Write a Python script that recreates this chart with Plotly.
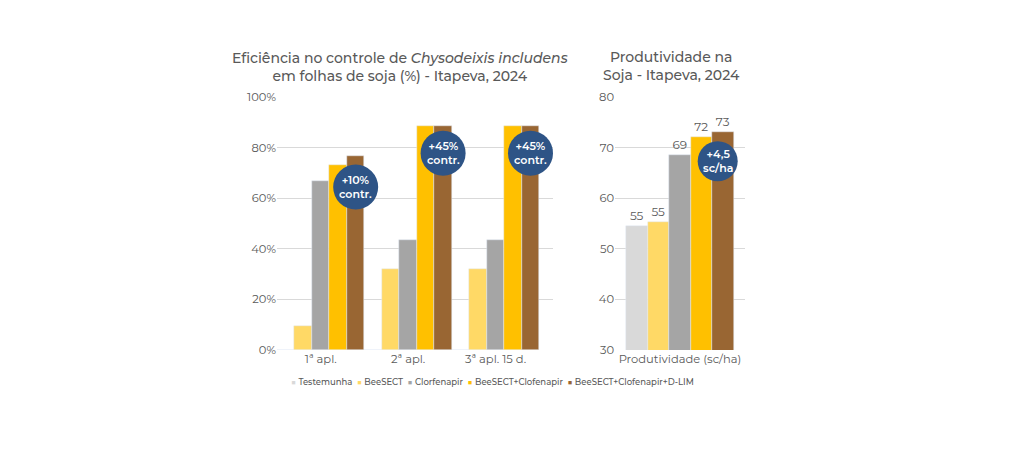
import plotly.graph_objects as go

# ---- data ----
series = ["Testemunha", "BeeSECT", "Clorfenapir", "BeeSECT+Clofenapir", "BeeSECT+Clofenapir+D-LIM"]
colors = ["#D9D9D9", "#FFD966", "#A5A5A5", "#FFC000", "#996633"]

eff_categories = ["1ª apl.", "2ª apl.", "3ª apl. 15 d."]
eff_values = [
    [0, 0, 0],          # Testemunha
    [9.6, 32.2, 32.2],  # BeeSECT
    [66.8, 43.4, 43.4], # Clorfenapir
    [73.2, 88.6, 88.6], # BeeSECT+Clofenapir
    [76.5, 88.6, 88.6], # BeeSECT+Clofenapir+D-LIM
]
eff_ticks = [0, 20, 40, 60, 80, 100]
eff_ticktext = ["0%", "20%", "40%", "60%", "80%", "100%"]
eff_badges = [("+10%<br>contr.", 0, 64.4), ("+45%<br>contr.", 1, 77.8), ("+45%<br>contr.", 2, 77.8)]

prod_category = ["Produtividade (sc/ha)"]
prod_values = [54.6, 55.2, 68.5, 72.0, 73.0]
prod_ticks = [30, 40, 50, 60, 70, 80]
prod_badge = ("+4,5<br>sc/ha", 0, 67.3)

FONT = "Montserrat, DejaVu Sans, sans-serif"
TXT = "#595959"
BADGE = "#2E5486"

W, H = 1024, 455
OFF = 8  # page body margin shifts the figure by this many pixels


def px(x):
    return (x - OFF) / W


def py(y):
    return 1 - (y - OFF) / H


fig = go.Figure()

for name, col, vals in zip(series, colors, eff_values):
    fig.add_trace(go.Bar(x=eff_categories, y=vals, name=name, marker_color=col,
                         xaxis="x", yaxis="y", showlegend=False))

for name, col, v in zip(series, colors, prod_values):
    fig.add_trace(go.Bar(x=prod_category, y=[v], name=name, marker_color=col,
                         xaxis="x2", yaxis="y2", showlegend=False,
                         text=[v], texttemplate="%{y:.0f}", textposition="outside",
                         textfont=dict(size=12, color=TXT, family=FONT), cliponaxis=False))

ydom = [py(350), py(97)]
fig.update_layout(
    width=W, height=H,
    margin=dict(l=0, r=0, t=0, b=0, autoexpand=False),
    paper_bgcolor="white", plot_bgcolor="white",
    barmode="group", bargap=0, bargroupgap=0,
    font=dict(family=FONT, color=TXT, size=11),
    xaxis=dict(domain=[px(277), px(553)], showline=False, ticks="",
               tickfont=dict(size=11.5, color=TXT)),
    yaxis=dict(domain=ydom, range=[0, 100], tickvals=eff_ticks, ticktext=eff_ticktext,
               showgrid=True, gridcolor="#D9D9D9", zeroline=False, ticks="",
               tickfont=dict(size=11.5, color=TXT)),
    xaxis2=dict(domain=[px(615), px(745)], anchor="y2", showline=False, ticks="",
                tickfont=dict(size=11.5, color=TXT)),
    yaxis2=dict(domain=ydom, anchor="x2", range=[30, 80], tickvals=prod_ticks,
                showgrid=True, gridcolor="#D9D9D9", zeroline=False, ticks="",
                tickfont=dict(size=11.5, color=TXT)),
)

for i in range(5, 10):
    fig.data[i].width = 0.83 / 5
    fig.data[i].offset = -0.415 + (i - 5) * 0.83 / 5

annotations = []
shapes = []
annotations.append(dict(text="Eficiência no controle de <i>Chysodeixis includens</i><br>em folhas de soja (%) - Itapeva, 2024",
                        x=px(400), y=py(67), xref="paper", yref="paper", showarrow=False,
                        xanchor="center", yanchor="middle",
                        font=dict(size=14, color=TXT, family=FONT, weight=500), align="center"))
annotations.append(dict(text="Produtividade na<br>Soja - Itapeva, 2024",
                        x=px(671), y=py(66), xref="paper", yref="paper", showarrow=False,
                        xanchor="center", yanchor="middle",
                        font=dict(size=14, color=TXT, family=FONT, weight=500), align="center"))

for txt, ci, yv in eff_badges:
    xc = ci + 0.4
    shapes.append(dict(type="circle", xref="x", yref="y", xsizemode="pixel", ysizemode="pixel",
                       xanchor=xc, yanchor=yv, x0=-22.5, x1=22.5, y0=-22.5, y1=22.5,
                       fillcolor=BADGE, line=dict(width=0), layer="above"))
    annotations.append(dict(text=txt, x=xc, y=yv, xref="x", yref="y", showarrow=False,
                            font=dict(size=11, color="white", family=FONT, weight=600), align="center"))
txt, ci, yv = prod_badge
xc = ci + 0.29
shapes.append(dict(type="circle", xref="x2", yref="y2", xsizemode="pixel", ysizemode="pixel",
                   xanchor=xc, yanchor=yv, x0=-20, x1=20, y0=-20, y1=20,
                   fillcolor=BADGE, line=dict(width=0), layer="above"))
annotations.append(dict(text=txt, x=xc, y=yv, xref="x2", yref="y2", showarrow=False,
                        font=dict(size=11, color="white", family=FONT, weight=600), align="center"))

legend_html = "  ".join(f"<span style='color:{c}'>■</span> {n}" for n, c in zip(series, colors))
annotations.append(dict(text=legend_html, x=px(492), y=py(382), xref="paper", yref="paper",
                        xanchor="center", yanchor="middle",
                        showarrow=False, font=dict(size=8.5, color=TXT, family=FONT, weight=500)))

fig.update_layout(annotations=annotations, shapes=shapes)
fig.write_html("out.html")
